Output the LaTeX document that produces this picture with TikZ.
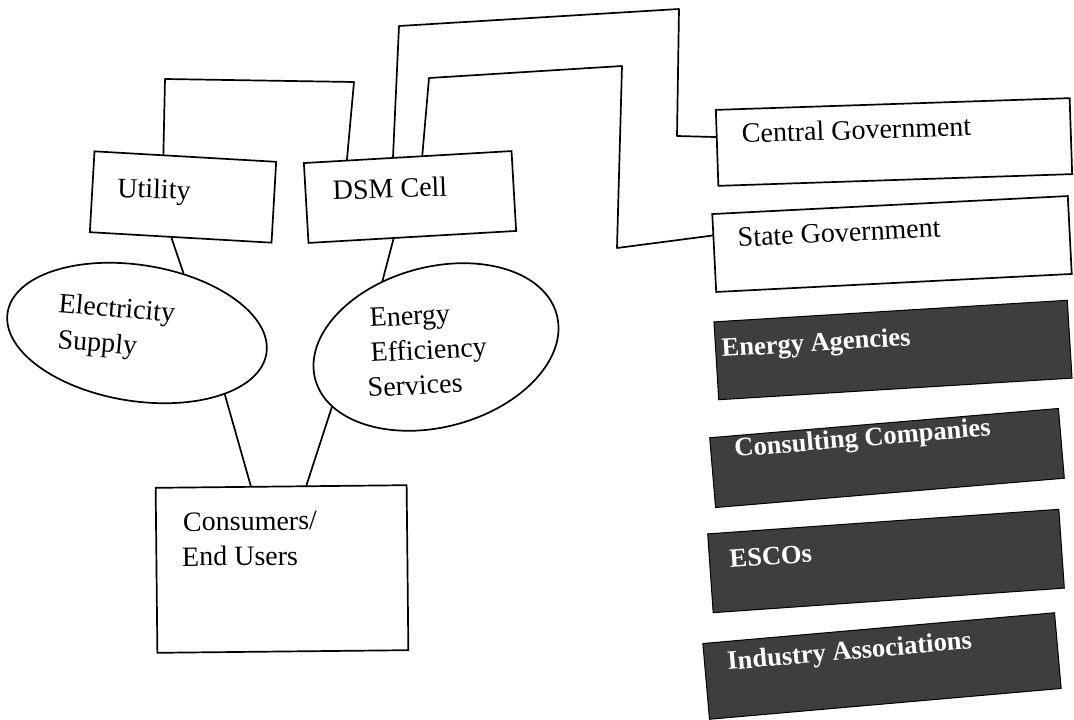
\documentclass[tikz,border=0pt]{standalone}
\usepackage{fontspec}
\setmainfont{Liberation Serif}
\usetikzlibrary{shapes.geometric,calc}
\definecolor{panel}{HTML}{3E3E3E}
\begin{document}
\begin{tikzpicture}[x=1pt,y=-1pt,
  line/.style={line width=1.7pt, line join=round, line cap=round},
  wbox/.style={draw, line width=1.7pt, fill=white, inner sep=0pt},
  dbox/.style={draw=black, line width=1pt, fill=panel, inner sep=0pt},
  oval/.style={ellipse, draw, line width=1.7pt, fill=white, inner sep=0pt},
  lbl/.style={font=\fontsize{28}{34}\selectfont, inner sep=0pt, anchor=base west},
  dlbl/.style={font=\bfseries\fontsize{26.5}{32}\selectfont, text=white, inner sep=0pt, anchor=base west},
]
\fill[white] (0,0) rectangle (1074,720);
\useasboundingbox (0,0) rectangle (1074,720);

% left group: organisations and their services
\node[wbox, minimum width=182pt, minimum height=81pt, rotate=-3.3] (util) at (183,197) {};
\node[wbox, minimum width=208pt, minimum height=80pt, rotate=3.3] (dsm) at (410,197) {};
\node[oval, minimum width=262pt, minimum height=136pt, rotate=-9] (es) at (137,333) {};
\node[oval, minimum width=250pt, minimum height=160pt, rotate=15] (ees) at (436,347) {};
\node[wbox, minimum width=251pt, minimum height=165pt, rotate=0.6] (cons) at (282,569) {};

% right column: government bodies and other actors
\node[wbox, minimum width=354pt, minimum height=76pt, rotate=1.9] (cg) at (894,142) {};
\node[wbox, minimum width=356pt, minimum height=78pt, rotate=2.9] (sg) at (892,244) {};
\node[dbox, minimum width=354pt, minimum height=78pt, rotate=3.5] (ea) at (893,350) {};
\node[dbox, minimum width=350pt, minimum height=70pt, rotate=4.8] (cc) at (887,458) {};
\node[dbox, minimum width=352pt, minimum height=79pt, rotate=4.0] (esco) at (886,561) {};
\node[dbox, minimum width=353pt, minimum height=76pt, rotate=5.0] (ia) at (882,666) {};

% labels
\node[lbl, rotate=-2] (utilt) at (117,197) {Utility};
\node[lbl, rotate=2] (dsmt) at (333,200) {DSM Cell};
\node[lbl, rotate=-5] (est1) at (58,312) {Electricity};
\node[lbl, rotate=-5] (est2) at (57,348) {Supply};
\node[lbl, rotate=3] (eest1) at (370,327) {Energy};
\node[lbl, rotate=3] (eest2) at (371,362) {Efficiency};
\node[lbl, rotate=3] (eest3) at (368,397) {Services};
\node[lbl, rotate=0.5] (const1) at (183,531) {Consumers/};
\node[lbl, rotate=0.5] (const2) at (182,566) {End Users};
\node[lbl, rotate=1.9] (cgt) at (742,143) {Central Government};
\node[lbl, rotate=2.9] (sgt) at (738,247) {State Government};
\node[dlbl, rotate=3.5] (eat) at (722,357) {Energy Agencies};
\node[dlbl, rotate=4.8] (cct) at (735,457) {Consulting Companies};
\node[dlbl, rotate=4.0] (escot) at (730,568) {ESCOs};
\node[dlbl, rotate=5.0] (iat) at (728,670) {Industry Associations};

% connectors
\draw[line] ($(util.north west)!0.38!(util.north east)$) -- (165,79) -- (354,82)
  -- ($(dsm.north west)!0.21!(dsm.north east)$);
\draw[line] ($(dsm.north west)!0.43!(dsm.north east)$) -- (399,26) -- (679,9)
  -- (677,136) -- ($(cg.north west)!0.36!(cg.south west)$);
\draw[line] ($(dsm.north west)!0.57!(dsm.north east)$) -- (429,78) -- (622,66)
  -- (617,248) -- ($(sg.north west)!0.28!(sg.south west)$);
\draw[line] ($(util.south west)!0.45!(util.south east)$) -- (es.61);
\draw[line] (es.-26) -- ($(cons.north west)!0.38!(cons.north east)$);
\draw[line] ($(dsm.south west)!0.41!(dsm.south east)$) -- (ees.114);
\draw[line] (ees.195) -- ($(cons.north west)!0.60!(cons.north east)$);
\end{tikzpicture}
\end{document}
